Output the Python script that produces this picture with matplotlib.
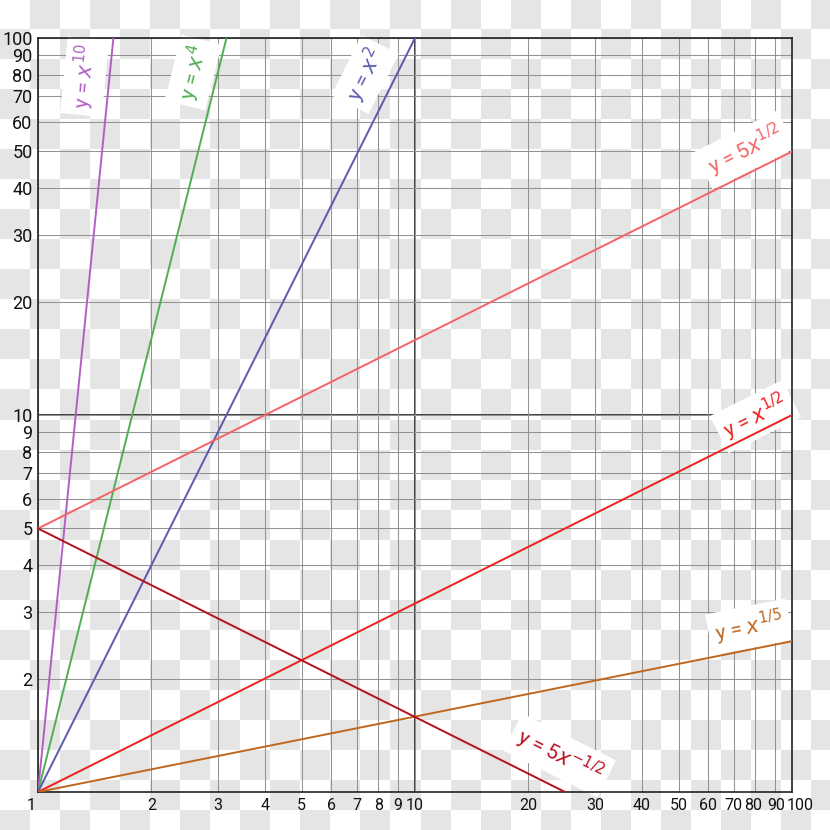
import numpy as np
import matplotlib
matplotlib.use("Agg")
import matplotlib.pyplot as plt
from matplotlib.transforms import ScaledTranslation

# ---- data ----
x_range = [1, 100]
labels = [r"y = $x^{10}$", r"y = $x^{4}$", r"y = $x^{2}$", r"y = 5$x^{1/2}$",
          r"y = $x^{1/2}$", r"y = $x^{1/5}$", r"y = 5$x^{-1/2}$"]
coefs = [1, 1, 1, 5, 1, 1, 5]
exponents = [10, 4, 2, 0.5, 0.5, 0.2, -0.5]
colors = ["#b25fc4", "#4fae54", "#5a5ab0", "#f26464", "#f21e1e", "#c2661c", "#b80f1e"]
label_pos = [(1.33, 79), (2.58, 81), (7.37, 80), (75, 50.5), (80, 9.9), (77, 2.74), (24.2, 1.25)]

xticks = [1, 2, 3, 4, 5, 6, 7, 8, 9, 10, 20, 30, 40, 50, 60, 70, 80, 90, 100]
yticks = [2, 3, 4, 5, 6, 7, 8, 9, 10, 20, 30, 40, 50, 60, 70, 80, 90, 100]

plt.rcParams["font.family"] = ["Roboto", "DejaVu Sans"]
plt.rcParams["mathtext.fontset"] = "dejavusans"

W = 830
fig = plt.figure(figsize=(8.3, 8.3), dpi=100)

# checkerboard background (transparency pattern)
bg = fig.add_axes([0, 0, 1, 1], zorder=0)
idx = np.arange(W) // 30
chk = (idx[:, None] + idx[None, :]) % 2
img = np.where(chk[..., None] == 1, np.array([0.9, 0.9, 0.9]), np.array([1.0, 1.0, 1.0]))
bg.imshow(img, interpolation="nearest", extent=[0, W, W, 0])
bg.set_xlim(0, W); bg.set_ylim(W, 0)
bg.axis("off")

ax = fig.add_axes([38 / W, 38 / W, 754 / W, 754 / W], zorder=1)
ax.patch.set_alpha(0)
ax.set_xscale("log"); ax.set_yscale("log")
ax.set_xlim(1, 100); ax.set_ylim(1, 100)

ax.set_xticks(xticks)
ax.set_xticklabels([str(v) for v in xticks])
ax.set_yticks(yticks)
ax.set_yticklabels([str(v) for v in yticks])
ax.minorticks_off()
ax.tick_params(length=0, labelsize=13, pad=4, labelcolor="#111111")
ax.tick_params(axis="x", labelsize=11.5)
xl = ax.get_xticklabels()
shifts = {0: -7, len(xl) - 3: -2, len(xl) - 2: 1, len(xl) - 1: 8}
for i, dx in shifts.items():
    xl[i].set_transform(xl[i].get_transform() + ScaledTranslation(dx / 100, 0, fig.dpi_scale_trans))
ax.grid(True, color="#929292", lw=0.75)
ax.axvline(10, color="#333333", lw=1.3, zorder=1.5)
ax.axhline(10, color="#333333", lw=1.3, zorder=1.5)
for s in ax.spines.values():
    s.set_color("#222222"); s.set_linewidth(1.2)

xs = np.array(x_range, dtype=float)
for lab, c, p, col, pos in zip(labels, coefs, exponents, colors, label_pos):
    ax.plot(xs, c * xs ** p, color=col, lw=1.4, zorder=3, clip_on=True)
    ang = np.degrees(np.arctan(p))
    ax.text(pos[0], pos[1], lab, color=col, fontsize=15, rotation=ang,
            rotation_mode="anchor", ha="center", va="center", zorder=2.5,
            bbox=dict(boxstyle="square,pad=0.3", fc="white", ec="none"))

fig.savefig("out.png", dpi=100)
